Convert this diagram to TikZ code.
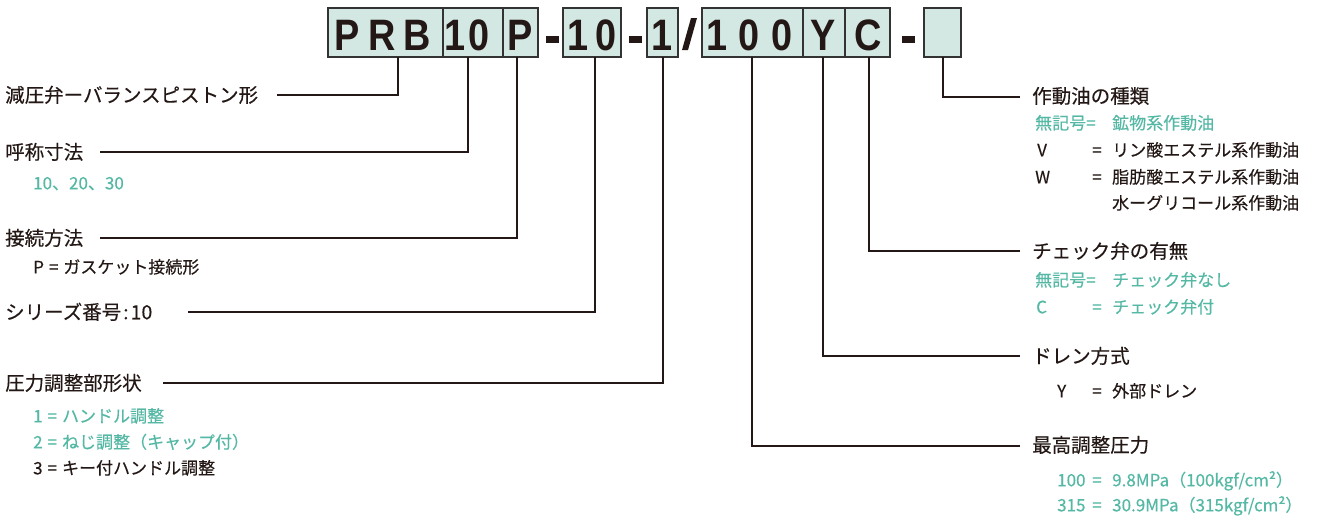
\documentclass[tikz,border=0pt]{standalone}
\usepackage{fontspec}
\newfontfamily\jpfont{Noto Sans CJK JP}[FakeBold=0.3]
\newfontfamily\codefont{Liberation Sans}
\definecolor{ink}{HTML}{231815}
\definecolor{tealc}{HTML}{54B8A4}
\definecolor{boxfill}{HTML}{D3E8E3}
\definecolor{boxline}{HTML}{333333}
\tikzset{
  hd/.style={anchor=west, inner sep=0pt, text height=16.8pt, text depth=2.3pt, font=\jpfont\fontsize{19.5}{20}\selectfont, text=ink},
  sb/.style={anchor=west, inner sep=0pt, text height=14.6pt, text depth=2pt, font=\jpfont\fontsize{17}{18}\selectfont, text=ink},
  tl/.style={text=tealc},
  cbox/.style={draw=boxline, fill=boxfill, line width=1.5pt, inner sep=0pt, minimum height=49pt},
  ch/.style={anchor=base, inner sep=0pt, font=\codefont\bfseries\fontsize{44}{44}\selectfont, text=ink},
  conn/.style={draw=ink, line width=1.1pt},
  dashmark/.style={fill=ink, draw=none, inner sep=0pt, minimum width=13pt, minimum height=7pt}
}
\newcommand{\cx}[1]{\scalebox{0.86}[1]{#1}}
\newcommand{\sq}{\hspace{5pt}=\hspace{5pt}}
\begin{document}
\begin{tikzpicture}[x=1pt,y=-1pt]
\useasboundingbox (0,0) rectangle (1319,517);
% code boxes
\node[cbox, minimum width=115pt] (bPRB) at (385.5,32.5) {};
\node[cbox, minimum width=60pt]  (bSZ)  at (473,32.5) {};
\node[cbox, minimum width=35pt]  (bP)   at (520.5,32.5) {};
\node[cbox, minimum width=58pt]  (bSR)  at (592,32.5) {};
\node[cbox, minimum width=31pt]  (bAD)  at (662.5,32.5) {};
\node[cbox, minimum width=101pt] (bPR)  at (752.5,32.5) {};
\node[cbox, minimum width=42pt]  (bY)   at (824,32.5) {};
\node[cbox, minimum width=45pt]  (bC)   at (867.5,32.5) {};
\node[cbox, minimum width=37pt]  (bE)   at (942.5,32.5) {};
% letters
\node[ch] (c1) at (347,50.5) {\cx{P}};
\node[ch] (c2) at (382,50.5) {\cx{R}};
\node[ch] (c3) at (417,50.5) {\cx{B}};
\node[ch] (c4) at (455,50.5) {\cx{1}};
\node[ch] (c5) at (479,50.5) {\cx{0}};
\node[ch] (c6) at (520,50.5) {\cx{P}};
\node[ch] (c7) at (578,50.5) {\cx{1}};
\node[ch] (c8) at (606,50.5) {\cx{0}};
\node[ch] (c9) at (662,50.5) {\cx{1}};
\node[ch] (c10) at (717,50.5) {\cx{1}};
\node[ch] (c11) at (749,50.5) {\cx{0}};
\node[ch] (c12) at (782,50.5) {\cx{0}};
\node[ch] (c13) at (823,50.5) {\cx{Y}};
\node[ch] (c14) at (868,50.5) {\cx{C}};
% dashes and slash
\node[dashmark] (d1) at (552.5,39.5) {};
\node[dashmark] (d2) at (635.5,39.5) {};
\node[dashmark] (d3) at (908.5,39.5) {};
\fill[ink] (682,50) -- (688,50) -- (697,18) -- (691,18) -- cycle;
% connector coordinates
\coordinate (tPRB) at (398,57);  \coordinate (ePRB) at (277,95);
\coordinate (tSZ)  at (468,57);  \coordinate (eSZ)  at (100,152);
\coordinate (tP)   at (517,57);  \coordinate (eP)   at (100,238);
\coordinate (tSR)  at (595,57);  \coordinate (eSR)  at (188,312);
\coordinate (tAD)  at (663,57);  \coordinate (eAD)  at (163,383);
\coordinate (tE)   at (943,57);  \coordinate (eE)   at (1020,97);
\coordinate (tC)   at (869,57);  \coordinate (eC)   at (1020,251);
\coordinate (tY)   at (823,57);  \coordinate (eY)   at (1020,356);
\coordinate (tPR)  at (752,57);  \coordinate (ePR)  at (1020,446);
\draw[conn] (tPRB) |- (ePRB);
\draw[conn] (tSZ) |- (eSZ);
\draw[conn] (tP) |- (eP);
\draw[conn] (tSR) |- (eSR);
\draw[conn] (tAD) |- (eAD);
\draw[conn] (tE) |- (eE);
\draw[conn] (tC) |- (eC);
\draw[conn] (tY) |- (eY);
\draw[conn] (tPR) |- (ePR);
% left labels
\node[hd] (hPRB) at (5,95) {減圧弁ーバランスピストン形};
\node[hd] (hSZ) at (5,152) {呼称寸法};
\node[sb,tl] (sSZ) at (33,183) {10、20、30};
\node[hd] (hP) at (5,238) {接続方法};
\node[sb] (sP) at (33,267) {P\sq ガスケット接続形};
\node[hd] (hSR) at (5,312) {シリーズ番号\hspace{2pt}:\hspace{2pt}10};
\node[hd] (hAD) at (5,383) {圧力調整部形状};
\node[sb,tl] (sAD1) at (33,416) {1\sq ハンドル調整};
\node[sb,tl] (sAD2) at (33,442) {2\sq ねじ調整（キャップ付）};
\node[sb] (sAD3) at (33,468) {3\sq キー付ハンドル調整};
% right labels
\node[hd] (hE) at (1032,96) {作動油の種類};
\node[sb,tl] (sE1a) at (1035,123) {無記号=};
\node[sb,tl] (sE1b) at (1112,123) {鉱物系作動油};
\node[sb] (sE2a) at (1037,150) {V};
\node[sb] (sE2q) at (1092,150) {=};
\node[sb] (sE2b) at (1112,150) {リン酸エステル系作動油};
\node[sb] (sE3a) at (1035,177) {W};
\node[sb] (sE3q) at (1092,177) {=};
\node[sb] (sE3b) at (1112,177) {脂肪酸エステル系作動油};
\node[sb] (sE4b) at (1112,203) {水ーグリコール系作動油};
\node[hd] (hC) at (1032,251) {チェック弁の有無};
\node[sb,tl] (sC1a) at (1035,280) {無記号=};
\node[sb,tl] (sC1b) at (1112,280) {チェック弁なし};
\node[sb,tl] (sC2a) at (1036,307) {C};
\node[sb,tl] (sC2q) at (1092,307) {=};
\node[sb,tl] (sC2b) at (1112,307) {チェック弁付};
\node[hd] (hY) at (1032,356) {ドレン方式};
\node[sb] (sY1a) at (1057,391) {Y};
\node[sb] (sY1q) at (1092,391) {=};
\node[sb] (sY1b) at (1112,391) {外部ドレン};
\node[hd] (hPR) at (1032,445) {最高調整圧力};
\node[sb,tl] (sPR1a) at (1057,480) {100};
\node[sb,tl] (sPR1q) at (1092,480) {=};
\node[sb,tl] (sPR1b) at (1112,480) {9.8MPa（100kgf/cm²）};
\node[sb,tl] (sPR2a) at (1057,505) {315};
\node[sb,tl] (sPR2q) at (1092,505) {=};
\node[sb,tl] (sPR2b) at (1112,505) {30.9MPa（315kgf/cm²）};
\end{tikzpicture}
\end{document}
